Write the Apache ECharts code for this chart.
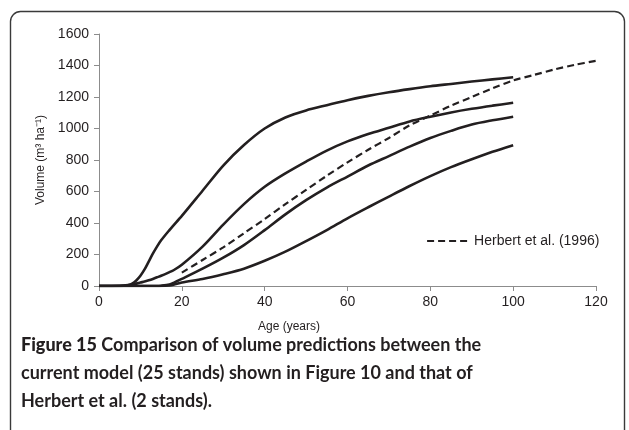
<!DOCTYPE html>
<html>
<head>
<meta charset="utf-8">
<script src="https://cdn.jsdelivr.net/npm/echarts@6/dist/echarts.min.js"></script>
<style>
  html, body { margin: 0; padding: 0; background: #ffffff; }
  #chart { width: 629px; height: 430px; }
</style>
</head>
<body>
<div id="chart"></div>
<script>
// Stand age grid (years) shared by the four model curves
const modelAges = [0, 5, 7, 8, 9, 10, 11, 12, 13, 14, 15, 17, 18, 20, 25, 30, 35, 40, 45, 50, 55, 60, 65, 70, 75, 80, 85, 90, 95, 100];

// Predicted volume (m3/ha) for the current model, four curves
const volumeA = [0, 0, 5, 15, 35, 65, 105, 155, 205, 250, 290, 355, 385, 445, 605, 765, 895, 1000, 1070, 1115, 1148, 1180, 1207, 1230, 1250, 1268, 1283, 1298, 1312, 1325];
const volumeB = [0, 2, 6, 10, 15, 22, 28, 36, 45, 55, 65, 88, 100, 135, 250, 390, 520, 630, 715, 790, 860, 918, 965, 1005, 1045, 1075, 1102, 1125, 1145, 1163];
const volumeC = [0, 0, 0, 0, 0, 0, 0, 0, 0, 0, 2, 10, 20, 45, 110, 180, 260, 355, 455, 545, 625, 695, 765, 825, 885, 940, 985, 1025, 1052, 1075];
const volumeD = [0, 0, 0, 0, 0, 0, 0, 0, 0, 0, 0, 3, 8, 22, 45, 75, 110, 160, 218, 285, 355, 430, 500, 568, 635, 698, 755, 805, 852, 894];

// Herbert et al. (1996) curve
const herbertAges = [20, 25, 30, 35, 40, 45, 50, 55, 60, 65, 70, 75, 80, 85, 90, 95, 100, 105, 110, 115, 120];
const herbertVolume = [85, 165, 245, 335, 425, 520, 610, 700, 785, 865, 940, 1020, 1082, 1145, 1200, 1255, 1305, 1340, 1375, 1405, 1430];

// Axis ticks
const ageTicks = { min: 0, max: 120, step: 20 };
const volumeTicks = { min: 0, max: 1600, step: 200 };

const herbertName = 'Herbert et al. (1996)';
const ink = '#231f20';
const axisGrey = '#8c8c8c';
const sans = 'Liberation Sans, Arial, sans-serif';
const captionFont = 'Lato, Open Sans, sans-serif';
const captionSize = 18;
const herbertDash = [7, 4];

function pairs(xs, ys) {
  return xs.map((x, i) => [x, ys[i]]);
}

function modelSeries(values) {
  return {
    type: 'line',
    data: pairs(modelAges, values),
    smooth: 0.3,
    showSymbol: false,
    symbol: 'none',
    silent: true,
    lineStyle: { color: ink, width: 2.6 },
    z: 3
  };
}

const chart = echarts.init(document.getElementById('chart'), null, { renderer: 'canvas' });

chart.setOption({
  animation: false,
  backgroundColor: '#ffffff',
  textStyle: { fontFamily: sans },
  grid: { left: 99, right: 33, top: 34, bottom: 144, containLabel: false },
  xAxis: {
    type: 'value',
    min: ageTicks.min,
    max: ageTicks.max,
    interval: ageTicks.step,
    axisLine: { show: true, lineStyle: { color: axisGrey, width: 1 } },
    axisTick: { show: true, inside: false, length: 5, lineStyle: { color: axisGrey } },
    axisLabel: { color: ink, fontSize: 14, margin: 9, fontFamily: sans, formatter: v => String(v) },
    splitLine: { show: false }
  },
  yAxis: {
    type: 'value',
    min: volumeTicks.min,
    max: volumeTicks.max,
    interval: volumeTicks.step,
    name: 'Volume (m\u00B3 ha\u207B\u00B9)',
    nameLocation: 'middle',
    nameGap: 51,
    nameRotate: 90,
    nameTextStyle: { color: ink, fontSize: 12, fontFamily: sans },
    axisLine: { show: true, lineStyle: { color: axisGrey, width: 1 } },
    axisTick: { show: true, inside: false, length: 5, lineStyle: { color: axisGrey } },
    axisLabel: { color: ink, fontSize: 14, margin: 10, fontFamily: sans, formatter: v => String(v) },
    splitLine: { show: false }
  },
  legend: {
    data: [herbertName],
    left: 421,
    top: 229,
    itemWidth: 42,
    itemHeight: 14,
    itemGap: 5,
    selectedMode: false,
    itemStyle: { opacity: 0 },
    lineStyle: { color: ink, width: 2.2, type: herbertDash },
    textStyle: { color: ink, fontSize: 14, fontFamily: sans }
  },
  series: [
    modelSeries(volumeA),
    modelSeries(volumeB),
    modelSeries(volumeC),
    modelSeries(volumeD),
    {
      name: herbertName,
      type: 'line',
      data: pairs(herbertAges, herbertVolume),
      smooth: 0.3,
      showSymbol: false,
      symbol: 'none',
      silent: true,
      lineStyle: { color: ink, width: 2.2, type: herbertDash },
      itemStyle: { color: ink },
      z: 4
    }
  ],
  graphic: [
    {
      type: 'rect',
      silent: true,
      shape: { x: 10.5, y: 11.5, width: 614, height: 460, r: 10 },
      style: { fill: 'none', stroke: '#3a3a3a', lineWidth: 1.4 }
    },
    {
      type: 'text',
      silent: true,
      left: 258,
      top: 321,
      style: { text: 'Age (years)', fill: ink, fontSize: 12, fontFamily: sans }
    },
    {
      type: 'text',
      silent: true,
      left: 21,
      top: 336,
      style: {
        text: '{b|Figure 15} {r|Comparison of volume predictions between the}',
        rich: {
          b: { fill: ink, fontSize: captionSize, fontWeight: 900, fontFamily: captionFont },
          r: { fill: ink, fontSize: captionSize, fontWeight: 'bold', fontFamily: captionFont }
        },
        fill: ink, fontSize: captionSize, fontWeight: 'bold', fontFamily: captionFont
      }
    },
    {
      type: 'text',
      silent: true,
      left: 21,
      top: 364,
      style: { text: 'current model (25 stands) shown in Figure 10 and that of', fill: ink, fontSize: captionSize, fontWeight: 'bold', fontFamily: captionFont }
    },
    {
      type: 'text',
      silent: true,
      left: 21,
      top: 392,
      style: { text: 'Herbert et al. (2 stands).', fill: ink, fontSize: captionSize, fontWeight: 'bold', fontFamily: captionFont }
    }
  ]
});
</script>
</body>
</html>
